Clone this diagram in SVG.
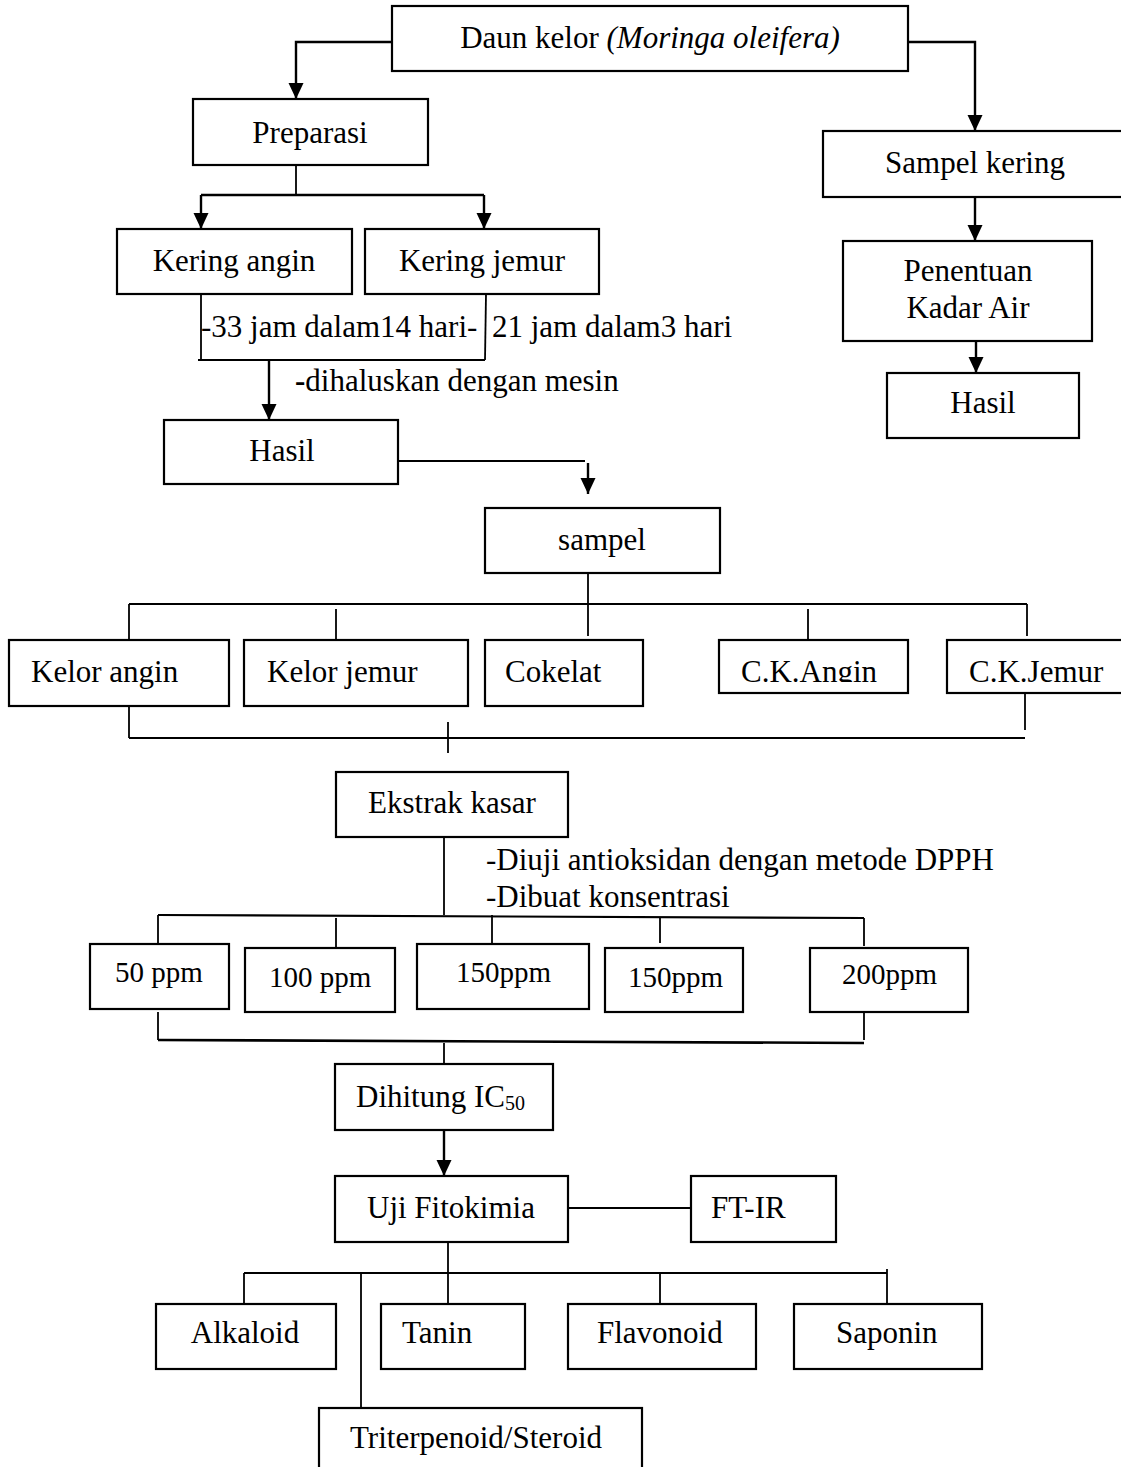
<svg xmlns="http://www.w3.org/2000/svg" width="1121" height="1467" viewBox="0 0 1121 1467">
<style>
.box{fill:#fff;stroke:#000;stroke-width:2.2}
.t{font-family:"Liberation Serif","Times New Roman",serif;font-size:31px;fill:#000}
.s{font-size:29px}
.m{text-anchor:middle}
.ln{fill:none;stroke:#000;stroke-width:1.8}
.ar{fill:none;stroke:#000;stroke-width:2.4;marker-end:url(#ah)}
</style>
<defs>
<marker id="ah" markerUnits="userSpaceOnUse" markerWidth="17" markerHeight="16" refX="16" refY="7.5" orient="auto">
<path d="M0,0 L16,7.5 L0,15 z" fill="#000"/>
</marker>
<clipPath id="clipCK"><rect x="700" y="630" width="430" height="52"/></clipPath>
</defs>
<rect width="1121" height="1467" fill="#fff"/>
<g id="connectors">
<polyline class="ar" points="392,42 296,42 296,99"/>
<polyline class="ar" points="908,42 975,42 975,131"/>
<line class="ln" x1="296" y1="165" x2="296" y2="195"/>
<line class="ar" x1="201" y1="195" x2="484" y2="195" style="marker-end:none"/>
<line class="ar" x1="201" y1="195" x2="201" y2="229"/>
<line class="ar" x1="484" y1="195" x2="484" y2="229"/>
<line class="ar" x1="975" y1="197" x2="975" y2="241"/>
<line class="ar" x1="976" y1="341" x2="976" y2="373"/>
<line class="ln" x1="201" y1="294" x2="201" y2="360"/>
<line class="ln" x1="486" y1="294" x2="485" y2="360"/>
<line class="ln" x1="198" y1="360" x2="485" y2="360" style="stroke-width:2.2"/>
<line class="ar" x1="269" y1="360" x2="269" y2="420"/>
<line class="ln" x1="398" y1="461" x2="585" y2="461"/>
<line class="ar" x1="588" y1="463" x2="588" y2="494"/>
<line class="ln" x1="588" y1="573" x2="588" y2="636"/>
<line class="ln" x1="129" y1="604" x2="1027" y2="604" style="stroke-width:2.2"/>
<line class="ln" x1="129" y1="604" x2="129" y2="640"/>
<line class="ln" x1="336" y1="609" x2="336" y2="640"/>
<line class="ln" x1="808" y1="609" x2="808" y2="640"/>
<line class="ln" x1="1027" y1="604" x2="1027" y2="636"/>
<line class="ln" x1="129" y1="706" x2="129" y2="738"/>
<line class="ln" x1="129" y1="738" x2="1025" y2="738" style="stroke-width:2.2"/>
<line class="ln" x1="1025" y1="693" x2="1025" y2="730"/>
<line class="ln" x1="448" y1="722" x2="448" y2="753"/>
<line class="ln" x1="444" y1="837" x2="444" y2="915"/>
<line class="ln" x1="158" y1="915" x2="864" y2="918" style="stroke-width:2.2"/>
<line class="ln" x1="158" y1="915" x2="158" y2="944"/>
<line class="ln" x1="336" y1="918" x2="336" y2="948"/>
<line class="ln" x1="492" y1="915" x2="492" y2="944"/>
<line class="ln" x1="660" y1="918" x2="660" y2="943"/>
<line class="ln" x1="864" y1="918" x2="864" y2="946"/>
<line class="ln" x1="158" y1="1012" x2="158" y2="1040"/>
<line class="ln" x1="158" y1="1040" x2="864" y2="1043" style="stroke-width:2.6"/>
<line class="ln" x1="864" y1="1012" x2="864" y2="1040"/>
<line class="ln" x1="444" y1="1043" x2="444" y2="1073"/>
<line class="ar" x1="444" y1="1130" x2="444" y2="1176"/>
<line class="ln" x1="568" y1="1208" x2="691" y2="1208" style="stroke-width:2.2"/>
<line class="ln" x1="448" y1="1242" x2="448" y2="1304"/>
<line class="ln" x1="244" y1="1273" x2="887" y2="1273" style="stroke-width:2.2"/>
<line class="ln" x1="244" y1="1273" x2="244" y2="1304"/>
<line class="ln" x1="361" y1="1273" x2="361" y2="1408"/>
<line class="ln" x1="660" y1="1273" x2="660" y2="1304"/>
<line class="ln" x1="887" y1="1269" x2="887" y2="1304"/>
</g>
<g id="daun"><rect class="box" x="392" y="6" width="516" height="65"/><text class="t m" x="650" y="48">Daun kelor <tspan font-style="italic">(Moringa oleifera)</tspan></text></g>
<g id="preparasi"><rect class="box" x="193" y="99" width="235" height="66"/><text class="t m" x="310" y="143">Preparasi</text></g>
<g id="sampel-kering"><rect class="box" x="823" y="131" width="320" height="66"/><text class="t m" x="975" y="173">Sampel kering</text></g>
<g id="kering-angin"><rect class="box" x="117" y="229" width="235" height="65"/><text class="t m" x="234" y="271">Kering angin</text></g>
<g id="kering-jemur"><rect class="box" x="365" y="229" width="234" height="65"/><text class="t m" x="482" y="271">Kering jemur</text></g>
<g id="penentuan"><rect class="box" x="843" y="241" width="249" height="100"/><text class="t m" x="968" y="281">Penentuan</text><text class="t m" x="968" y="318">Kadar Air</text></g>
<g id="hasil-kanan"><rect class="box" x="887" y="373" width="192" height="65"/><text class="t m" x="983" y="413">Hasil</text></g>
<g id="label-durasi"><text class="t" x="201" y="337">-33 jam dalam14 hari-</text><text class="t" x="492" y="337">21 jam dalam3 hari</text></g>
<g id="label-haluskan"><text class="t" x="295" y="391"><tspan font-weight="bold">-</tspan>dihaluskan dengan mesin</text></g>
<g id="hasil-kiri"><rect class="box" x="164" y="420" width="234" height="64"/><text class="t m" x="282" y="461">Hasil</text></g>
<g id="sampel"><rect class="box" x="485" y="508" width="235" height="65"/><text class="t m" x="602" y="550">sampel</text></g>
<g id="kelor-angin"><rect class="box" x="9" y="640" width="220" height="66"/><text class="t" x="31" y="682">Kelor angin</text></g>
<g id="kelor-jemur"><rect class="box" x="244" y="640" width="224" height="66"/><text class="t" x="267" y="682">Kelor jemur</text></g>
<g id="cokelat"><rect class="box" x="485" y="640" width="158" height="66"/><text class="t" x="505" y="682">Cokelat</text></g>
<g id="ck-angin"><rect class="box" x="719" y="640" width="189" height="53"/><text class="t" x="741" y="682" clip-path="url(#clipCK)">C.K.Angin</text></g>
<g id="ck-jemur"><rect class="box" x="947" y="640" width="200" height="53"/><text class="t" x="969" y="682" clip-path="url(#clipCK)">C.K.Jemur</text></g>
<g id="ekstrak"><rect class="box" x="336" y="772" width="232" height="65"/><text class="t m" x="452" y="813">Ekstrak kasar</text></g>
<g id="label-dpph"><text class="t" x="486" y="870">-Diuji antioksidan dengan metode DPPH</text><text class="t" x="486" y="907">-Dibuat konsentrasi</text></g>
<g id="ppm50"><rect class="box" x="90" y="944" width="139" height="65"/><text class="t s" x="115" y="982">50 ppm</text></g>
<g id="ppm100"><rect class="box" x="245" y="948" width="150" height="64"/><text class="t s" x="269" y="987">100 ppm</text></g>
<g id="ppm150a"><rect class="box" x="417" y="944" width="172" height="65"/><text class="t s" x="456" y="982">150ppm</text></g>
<g id="ppm150b"><rect class="box" x="605" y="948" width="138" height="64"/><text class="t s" x="628" y="987">150ppm</text></g>
<g id="ppm200"><rect class="box" x="810" y="948" width="158" height="64"/><text class="t s" x="842" y="984">200ppm</text></g>
<g id="dihitung"><rect class="box" x="335" y="1064" width="218" height="66"/><text class="t" x="356" y="1107">Dihitung IC<tspan font-size="20" dy="3">50</tspan></text></g>
<g id="uji"><rect class="box" x="335" y="1176" width="233" height="66"/><text class="t" x="367" y="1218">Uji Fitokimia</text></g>
<g id="ftir"><rect class="box" x="691" y="1176" width="145" height="66"/><text class="t" x="711" y="1218">FT-IR</text></g>
<g id="alkaloid"><rect class="box" x="156" y="1304" width="180" height="65"/><text class="t m" x="245" y="1343">Alkaloid</text></g>
<g id="tanin"><rect class="box" x="381" y="1304" width="144" height="65"/><text class="t" x="402" y="1343">Tanin</text></g>
<g id="flavonoid"><rect class="box" x="568" y="1304" width="188" height="65"/><text class="t" x="597" y="1343">Flavonoid</text></g>
<g id="saponin"><rect class="box" x="794" y="1304" width="188" height="65"/><text class="t" x="836" y="1343">Saponin</text></g>
<g id="triterpenoid"><rect class="box" x="319" y="1408" width="323" height="80"/><text class="t" x="350" y="1448">Triterpenoid/Steroid</text></g>
</svg>
